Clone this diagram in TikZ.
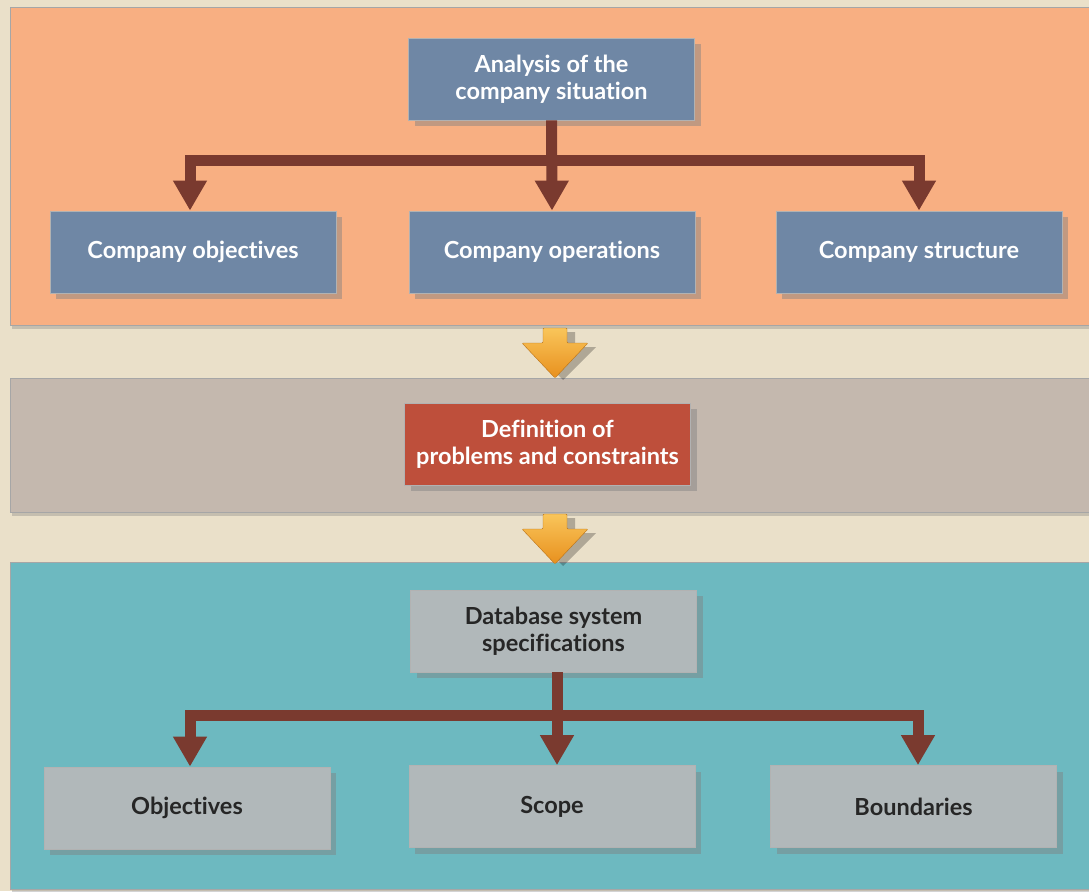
\documentclass[tikz,border=0pt]{standalone}
\usepackage{fontspec}
\setmainfont{Lato}[Ligatures=NoCommon]
\usetikzlibrary{arrows.meta,shadows,positioning}
\definecolor{bgc}{HTML}{EAE0C9}
\definecolor{panelA}{HTML}{F8AF82}
\definecolor{panelB}{HTML}{C4B8AE}
\definecolor{panelC}{HTML}{6DB9C0}
\definecolor{boxblue}{HTML}{6F87A5}
\definecolor{boxred}{HTML}{BE4F3B}
\definecolor{boxgray}{HTML}{B1B8BA}
\definecolor{brownc}{HTML}{7A3A2F}
\definecolor{yelA}{HTML}{F9C55A}
\definecolor{yelB}{HTML}{E8901E}
\tikzset{
  panel/.style={draw=black!35, line width=1pt, drop shadow={shadow xshift=2pt, shadow yshift=-4pt, opacity=0.35}},
  boxbase/.style={minimum width=286pt, minimum height=82pt, align=center, inner sep=2pt,
    font=\fontsize{23.5}{27}\selectfont\bfseries, draw=black!30, line width=0.8pt,
    drop shadow={shadow xshift=6pt, shadow yshift=-6pt, opacity=0.45}},
  bluebox/.style={boxbase, fill=boxblue, text=white},
  redbox/.style={boxbase, fill=boxred, text=white},
  graybox/.style={boxbase, fill=boxgray, text=black!85},
  conn/.style={draw=brownc, line width=11pt, line join=miter,
    -{Triangle[width=32pt,length=30pt]}},
  connplain/.style={draw=brownc, line width=11pt},
}
\begin{document}
\begin{tikzpicture}[x=1pt,y=-1pt]
\useasboundingbox (0,0) rectangle (1089,891);
\fill[bgc] (0,0) rectangle (1089,891);
% panels
\fill[panelA, panel] (10,8) rectangle (1095,325);
\fill[panelB, panel] (10,378) rectangle (1095,512);
\fill[panelC, panel] (10,562) rectangle (1095,889);
% nodes
\node[bluebox] (ana) at (551.5,79) {Analysis of the\\company situation};
\node[bluebox] (cobj) at (193,252) {Company objectives};
\node[bluebox] (cope) at (552,252) {Company operations};
\node[bluebox] (cstr) at (919,252) {Company structure};
\node[redbox] (def) at (547.5,444) {Definition of\\problems and constraints};
\node[graybox] (dbs) at (553.5,631) {Database system\\specifications};
\node[graybox] (obj) at (187,808) {Objectives};
\node[graybox] (scp) at (552,806.5) {Scope};
\node[graybox] (bnd) at (913.5,806.5) {Boundaries};
% top connectors
\coordinate (t1) at (551,160);
\draw[conn] (ana.south) -- (cope.north);
\draw[conn] (t1) -| (cobj.north -| 190,0);
\draw[conn] (t1) -| (cstr.north);
% bottom connectors
\coordinate (t2) at (557,715);
\draw[connplain] (dbs.south -| t2) -- (t2);
\draw[conn] (t2) -- (t2 |- scp.north);
\draw[conn] (t2) -| (obj.north -| 190,0);
\draw[conn] (t2) -| (bnd.north -| 918,0);
% yellow arrows
\foreach \yy/\nm in {328/ya,514/yb}{
  \fill[black, opacity=0.25] (543+8,\yy+4) -- (567+8,\yy+4) -- (567+8,\yy+19) -- (588+8,\yy+19)
    -- (555+8,\yy+52) -- (522+8,\yy+19) -- (543+8,\yy+19) -- cycle;
  \shade[top color=yelA, bottom color=yelB, draw=yelB!80!black, line width=0.4pt, rounded corners=1pt]
    (543,\yy) -- (567,\yy) -- (567,\yy+15) -- (588,\yy+15)
    -- (555,\yy+50) -- (522,\yy+15) -- (543,\yy+15) -- cycle;
}
\end{tikzpicture}
\end{document}
